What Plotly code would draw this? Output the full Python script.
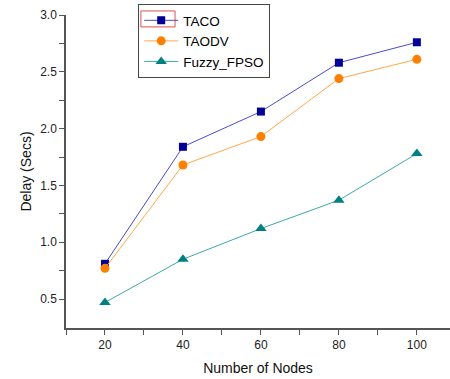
import plotly.graph_objects as go

nodes = [20, 40, 60, 80, 100]
taco = [0.81, 1.84, 2.15, 2.58, 2.76]
taodv = [0.77, 1.68, 1.93, 2.44, 2.61]
fuzzy = [0.47, 0.85, 1.12, 1.37, 1.78]

fig = go.Figure()
fig.add_trace(go.Scatter(x=nodes, y=taco, name="TACO", mode="lines+markers",
                         line=dict(color="#4a4ad0", width=1),
                         marker=dict(symbol="square", size=8, color="#000099")))
fig.add_trace(go.Scatter(x=nodes, y=taodv, name="TAODV", mode="lines+markers",
                         line=dict(color="#ffa848", width=1),
                         marker=dict(symbol="circle", size=9, color="#ff8000")))
fig.add_trace(go.Scatter(x=nodes, y=fuzzy, name="Fuzzy_FPSO", mode="lines+markers",
                         line=dict(color="#40a8a8", width=1),
                         marker=dict(symbol="triangle-up", size=10, color="#008080")))

font = "Liberation Sans, Arial, sans-serif"
fig.update_layout(
    width=450, height=379,
    margin=dict(l=66, r=0, t=15, b=51),
    paper_bgcolor="white", plot_bgcolor="white",
    font=dict(family=font, size=12, color="#222"),
    showlegend=True,
    legend=dict(x=0.188, y=1.035, xanchor="left", yanchor="top",
                bordercolor="#444", borderwidth=1, bgcolor="rgba(255,255,255,0)",
                font=dict(size=13.5, color="#000"), tracegroupgap=0,
                itemwidth=34, entrywidth=98),
    shapes=[dict(type="rect", xref="paper", yref="paper", layer="above",
                 x0=0.195, x1=0.284, y0=0.962, y1=1.013,
                 fillcolor="white", line=dict(color="#e05050", width=1)),
            dict(type="rect", xref="paper", yref="paper", layer="below",
                 x0=0.188, x1=0.54, y0=0.80, y1=1.035,
                 fillcolor="white", line=dict(width=0))],
    xaxis=dict(range=[10, 108.5], tickvals=[20, 40, 60, 80, 100],
               showgrid=False, zeroline=False, showline=True, linecolor="#555",
               linewidth=1.5, ticks="outside", ticklen=5, tickcolor="#555",
               minor=dict(tickvals=[10, 30, 50, 70, 90], ticks="outside", ticklen=5, tickcolor="#555"),
               title=dict(text="Number of Nodes", font=dict(size=14, color="#111"), standoff=12),
               tickfont=dict(size=12, color="#222")),
    yaxis=dict(range=[0.245, 3.0], tickvals=[0.5, 1.0, 1.5, 2.0, 2.5, 3.0],
               ticktext=["0.5", "1.0", "1.5", "2.0", "2.5", "3.0"],
               showgrid=False, zeroline=False, showline=True, linecolor="#555",
               linewidth=1.5, ticks="outside", ticklen=5, tickcolor="#555",
               minor=dict(tickvals=[0.75, 1.25, 1.75, 2.25, 2.75], ticks="outside", ticklen=5, tickcolor="#555"),
               title=dict(text="Delay (Secs)", font=dict(size=14, color="#111"), standoff=5),
               tickfont=dict(size=12, color="#222")),
)
fig.write_html("out.html")
